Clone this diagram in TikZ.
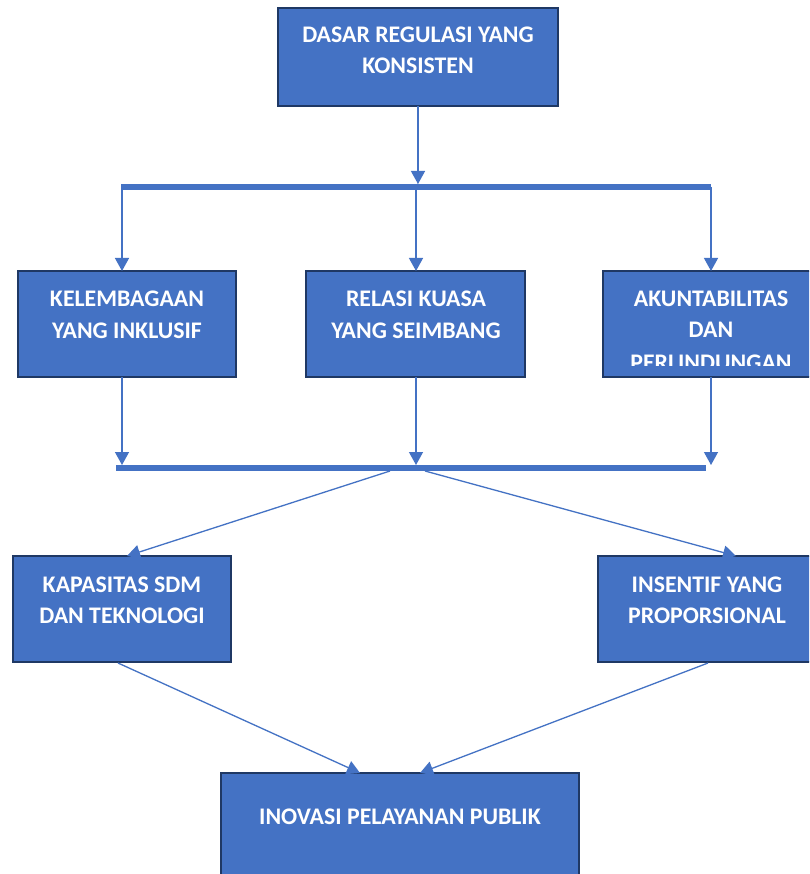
\documentclass[tikz,border=0pt]{standalone}
\usepackage{fontspec}
\setmainfont{Carlito}
\usetikzlibrary{arrows.meta}
\definecolor{boxblue}{HTML}{4472C4}
\definecolor{boxedge}{HTML}{1F3864}
\begin{document}
\begin{tikzpicture}[x=1pt,y=-1pt,
  box/.style={draw=boxedge, line width=2pt, fill=boxblue, inner sep=0pt, outer sep=0pt, anchor=north west},
  lbl/.style={text=white, font=\fontsize{23.8}{31}\selectfont\bfseries, anchor=base, inner sep=0pt},
  conn/.style={draw=boxblue, line width=1.3pt, -{Triangle[width=14pt,length=13pt]}},
  bar/.style={draw=boxblue, line width=5.5pt}]
\clip (0,0) rectangle (809,874);
\fill[white] (0,0) rectangle (809,874);
% boxes
\node[box, minimum width=280pt, minimum height=98pt] (top) at (278,8) {};
\node[box, minimum width=218pt, minimum height=106pt] (m1) at (18,271) {};
\node[box, minimum width=219pt, minimum height=106pt] (m2) at (306,271) {};
\node[box, minimum width=216pt, minimum height=106pt] (m3) at (603,271) {};
\node[box, minimum width=218pt, minimum height=106pt] (l1) at (13,556) {};
\node[box, minimum width=218pt, minimum height=106pt] (l2) at (598,556) {};
\node[box, minimum width=358pt, minimum height=130pt] (bot) at (221,773) {};
% labels
\node[lbl] (t1) at (418,43) {DASAR REGULASI YANG};
\node[lbl] (t2) at (418,74) {KONSISTEN};
\node[lbl] (a1) at (127,306) {KELEMBAGAAN};
\node[lbl] (a2) at (127,338) {YANG INKLUSIF};
\node[lbl] (b1) at (416,306) {RELASI KUASA};
\node[lbl] (b2) at (416,338) {YANG SEIMBANG};
\node[lbl] (c1) at (711,306) {AKUNTABILITAS};
\node[lbl] (c2) at (711,337) {DAN};
\begin{scope}
\clip (603,271) rectangle (819,365);
\node[lbl] (c3) at (711,370) {PERLINDUNGAN};
\end{scope}
\node[lbl] (d1) at (122,592) {KAPASITAS SDM};
\node[lbl] (d2) at (122,623) {DAN TEKNOLOGI};
\node[lbl] (e1) at (707,592) {INSENTIF YANG};
\node[lbl] (e2) at (707,623) {PROPORSIONAL};
\node[lbl] (f1) at (400,824) {INOVASI PELAYANAN PUBLIK};
% bars
\coordinate (bar1l) at (121,187);
\coordinate (bar1r) at (711,187);
\coordinate (bar2l) at (116,468);
\coordinate (bar2r) at (706,468);
\draw[bar] (bar1l) -- (bar1r);
\draw[bar] (bar2l) -- (bar2r);
% connectors
\coordinate (p0) at (418,184);
\coordinate (q1) at (122,187);
\coordinate (q2) at (416,187);
\coordinate (q3) at (711,187);
\coordinate (r1) at (122,465);
\coordinate (r2) at (416,465);
\coordinate (r3) at (711,465);
\coordinate (s1) at (390,471);
\coordinate (s2) at (425,471);
\draw[conn] (top.south -| p0) -- (p0);
\draw[draw=boxblue, line width=1.3pt] (p0) -- (q2);
\draw[conn] (q1) -- (m1.north -| q1);
\draw[conn] (q2) -- (m2.north -| q2);
\draw[conn] (q3) -- (m3.north -| q3);
\draw[conn] (m1.south -| r1) -- (r1);
\draw[conn] (m2.south -| r2) -- (r2);
\draw[conn] (m3.south -| r3) -- (r3);
\coordinate (u1) at (127,556);
\coordinate (u2) at (736,556);
\draw[conn] (s1) -- (u1);
\draw[conn] (s2) -- (u2);
\coordinate (v1) at (118,663);
\coordinate (v2) at (708,663);
\coordinate (w1) at (360,773);
\coordinate (w2) at (420,773);
\draw[conn] (v1) -- (w1);
\draw[conn] (v2) -- (w2);
\end{tikzpicture}
\end{document}
